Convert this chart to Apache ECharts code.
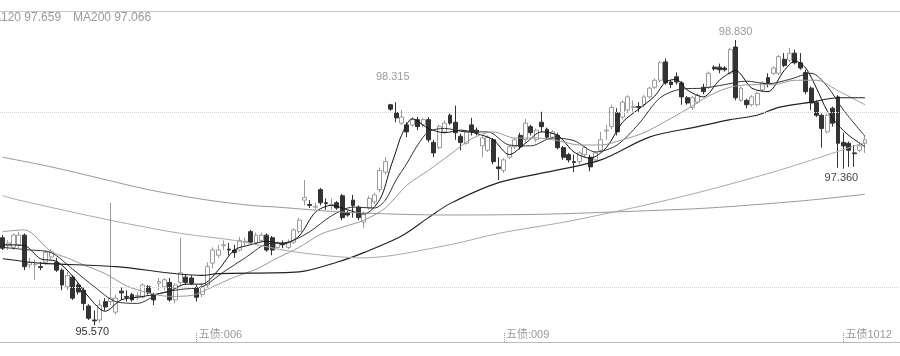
<!DOCTYPE html>
<html><head><meta charset="utf-8">
<script src="https://cdn.jsdelivr.net/npm/echarts@6/dist/echarts.min.js"></script>
<style>html,body{margin:0;padding:0;background:#fff}#c{width:900px;height:356px}</style>
</head><body><div id="c"></div>
<script>
const open = [
96.57,96.48,96.46,96.49,96.60,96.26,96.26,96.24,96.29,96.35,
96.29,96.20,96.01,96.12,96.03,95.97,95.79,95.63,95.63,95.84,
95.84,95.72,95.96,95.90,95.92,95.90,95.89,96.01,95.92,96.05,
96.01,96.06,95.86,96.06,96.12,96.11,96.00,95.92,96.03,96.28,
96.37,96.48,96.44,96.43,96.43,96.52,96.64,96.51,96.54,96.60,
96.57,96.46,96.50,96.46,96.52,96.64,97.00,96.95,96.92,97.12,
96.97,96.94,96.97,97.05,96.86,97.00,96.92,96.75,96.91,96.98,
97.12,97.32,98.09,98.00,97.88,97.86,97.86,97.92,97.86,97.92,
97.66,97.60,97.78,97.97,97.89,97.73,97.65,97.86,97.80,97.62,
97.57,97.69,97.38,97.34,97.49,97.61,97.74,97.69,97.84,97.69,
97.89,97.81,97.72,97.74,97.60,97.52,97.44,97.44,97.52,97.49,
97.46,97.57,97.79,97.84,98.00,97.95,98.03,98.06,98.07,98.09,
98.18,98.29,98.37,98.58,98.35,98.41,98.34,98.17,98.06,98.12,
98.29,98.29,98.52,98.52,98.51,98.45,98.75,98.14,98.14,98.09,
98.09,98.26,98.40,98.45,98.45,98.61,98.60,98.68,98.57,98.46,
98.28,98.12,97.97,97.78,98.05,98.18,97.66,97.65,97.54,97.57,
97.65];
const close = [
96.45,96.51,96.60,96.60,96.24,96.29,96.27,96.23,96.40,96.41,
96.20,96.03,96.14,95.88,95.95,95.82,95.65,95.62,95.80,95.78,
95.88,95.88,95.94,95.89,95.86,95.91,96.03,95.94,95.86,96.07,
96.09,95.86,96.03,96.17,96.06,96.05,95.89,96.01,96.24,96.43,
96.43,96.49,96.43,96.40,96.54,96.53,96.52,96.60,96.60,96.43,
96.43,96.51,96.49,96.52,96.66,96.77,97.03,96.94,96.93,96.97,
96.96,96.95,96.91,96.80,96.83,96.94,96.80,96.85,97.02,97.06,
97.34,97.44,98.04,97.94,97.95,97.78,97.92,97.84,97.92,97.69,
97.54,97.84,97.88,97.88,97.77,97.66,97.78,97.78,97.77,97.71,
97.72,97.44,97.36,97.46,97.61,97.69,97.61,97.88,97.77,97.80,
97.84,97.72,97.78,97.60,97.49,97.46,97.43,97.54,97.60,97.38,
97.54,97.69,97.80,98.06,97.78,98.12,98.18,98.07,98.06,98.18,
98.28,98.37,98.57,98.34,98.32,98.35,98.18,98.11,98.17,98.20,
98.24,98.45,98.50,98.49,98.49,98.72,98.17,98.28,98.09,98.18,
98.22,98.34,98.34,98.51,98.64,98.54,98.68,98.57,98.51,98.24,
98.11,97.97,97.82,97.97,97.88,97.65,97.62,97.57,97.53,97.62,
97.69];
const low = [
96.43,96.43,96.43,96.45,96.20,96.22,96.09,96.20,96.26,96.32,
96.18,95.97,95.97,95.86,95.92,95.74,95.63,95.57,95.60,95.74,
95.80,95.69,95.86,95.84,95.84,95.86,95.88,95.92,95.80,95.97,
95.97,95.84,95.82,96.03,96.03,96.03,95.84,95.89,96.00,96.22,
96.34,96.43,96.37,96.34,96.41,96.48,96.50,96.49,96.52,96.41,
96.37,96.45,96.45,96.44,96.50,96.62,96.94,96.91,96.89,96.94,
96.89,96.89,96.89,96.77,96.81,96.80,96.77,96.68,96.89,96.95,
97.09,97.29,98.02,97.89,97.86,97.72,97.84,97.80,97.83,97.66,
97.49,97.58,97.76,97.86,97.69,97.57,97.63,97.74,97.74,97.49,
97.55,97.41,97.23,97.31,97.47,97.58,97.58,97.66,97.74,97.66,
97.78,97.70,97.70,97.58,97.46,97.43,97.32,97.41,97.49,97.33,
97.43,97.55,97.69,97.81,97.74,97.92,98.00,98.01,98.01,98.06,
98.16,98.27,98.35,98.32,98.28,98.32,98.09,98.09,98.03,98.10,
98.21,98.27,98.48,98.45,98.47,98.43,98.14,98.12,98.05,98.07,
98.07,98.24,98.29,98.43,98.43,98.52,98.58,98.55,98.49,98.21,
98.03,97.95,97.60,97.76,97.84,97.37,97.36,97.38,97.38,97.55,
97.54];
const high = [
96.60,96.54,96.62,96.64,96.62,96.34,96.32,96.29,96.43,96.44,
96.34,96.22,96.18,96.14,96.05,96.00,95.81,95.74,95.86,95.88,
96.97,95.92,96.00,95.97,95.94,95.95,96.05,96.03,95.94,96.11,
96.11,96.11,96.05,96.57,96.15,96.14,96.03,96.05,96.29,96.46,
96.49,96.54,96.51,96.49,96.58,96.57,96.66,96.63,96.63,96.62,
96.59,96.53,96.54,96.55,96.68,96.80,97.23,97.00,96.97,97.14,
97.02,97.02,96.99,97.07,96.88,97.06,96.94,96.87,97.05,97.08,
97.37,97.49,98.10,98.12,98.03,97.89,97.95,97.95,97.94,97.95,
97.69,97.86,97.91,97.99,98.08,97.76,97.80,97.94,97.83,97.73,
97.74,97.71,97.49,97.48,97.63,97.71,97.77,97.93,97.86,97.82,
98.01,97.83,97.80,97.77,97.62,97.54,97.52,97.56,97.62,97.52,
97.56,97.78,97.86,98.09,98.05,98.14,98.20,98.14,98.12,98.20,
98.30,98.39,98.59,98.62,98.37,98.46,98.36,98.19,98.19,98.22,
98.33,98.47,98.54,98.56,98.53,98.74,98.83,98.30,98.16,98.20,
98.24,98.36,98.45,98.53,98.66,98.68,98.74,98.72,98.68,98.49,
98.30,98.14,97.99,97.99,98.07,98.20,97.77,97.67,97.63,97.65,
97.74];

// moving-average lines as [candle index, value]
const ma5 = [[0,96.49],[4,96.48],[7,96.33],[10,96.30],[13,96.13],[16,95.89],[19,95.73],[22,95.86],[25,95.89],[28,95.92],[31,95.96],[34,96.04],[37,96.04],[40,96.20],[43,96.43],[46,96.49],[49,96.53],[52,96.50],[55,96.59],[58,96.86],[61,96.94],[64,96.89],[67,96.84],[70,97.01],[72,97.38],[73,97.56],[74,97.74],[76,97.93],[79,97.82],[82,97.77],[85,97.80],[88,97.76],[91,97.69],[94,97.52],[97,97.65],[100,97.78],[103,97.74],[106,97.55],[109,97.48],[112,97.60],[115,97.89],[118,98.04],[121,98.19],[123,98.35],[125,98.38],[127,98.26],[130,98.18],[133,98.37],[136,98.48],[139,98.28],[142,98.24],[145,98.48],[147,98.59],[149,98.51],[151,98.28],[153,98.02],[155,97.86],[157,97.74],[160,97.61]];
const ma10 = [[0,96.46],[5,96.43],[9,96.40],[13,96.21],[17,96.01],[21,95.84],[25,95.82],[29,95.93],[33,95.98],[37,96.01],[41,96.18],[45,96.34],[49,96.50],[53,96.52],[57,96.64],[61,96.82],[65,96.92],[69,96.91],[71,97.00],[73,97.23],[75,97.42],[77,97.63],[79,97.78],[82,97.82],[86,97.78],[90,97.78],[94,97.63],[98,97.62],[102,97.71],[106,97.68],[110,97.55],[114,97.63],[118,97.87],[122,98.17],[126,98.27],[130,98.28],[134,98.32],[138,98.36],[142,98.33],[146,98.38],[150,98.45],[153,98.30],[156,98.03],[160,97.73]];
const ma20 = [[0,96.64],[4,96.66],[9,96.41],[12,96.34],[15,96.26],[19,96.16],[23,96.02],[27,95.94],[31,95.90],[35,95.91],[39,96.01],[43,96.12],[47,96.21],[51,96.34],[55,96.46],[59,96.61],[63,96.69],[67,96.77],[71,96.91],[75,97.17],[79,97.34],[83,97.52],[87,97.70],[91,97.78],[95,97.71],[99,97.71],[103,97.68],[107,97.63],[111,97.63],[115,97.69],[119,97.77],[123,97.90],[127,98.04],[131,98.19],[135,98.29],[139,98.32],[143,98.32],[147,98.37],[151,98.37],[155,98.25],[160,98.09]];
const ma60 = [[0,96.33],[7,96.28],[21,96.24],[37,96.14],[40,96.16],[55,96.18],[62,96.29],[67,96.40],[74,96.59],[79,96.80],[83,96.96],[92,97.20],[101,97.32],[111,97.46],[120,97.72],[129,97.84],[135,97.92],[140,97.97],[144,98.06],[150,98.12],[155,98.17],[160,98.17]];
const ma120 = [[0,97.05],[3,97.00],[20,96.77],[33,96.62],[43,96.54],[54,96.41],[67,96.34],[83,96.49],[92,96.62],[106,96.77],[126,97.04],[144,97.34],[160,97.66]];
const ma200 = [[0,97.49],[9,97.38],[18,97.25],[27,97.12],[37,97.01],[46,96.94],[51,96.92],[64,96.86],[83,96.83],[101,96.84],[120,96.88],[131,96.91],[148,96.99],[160,97.066]];

const legendNames = ['MA120', 'MA200'];
const legendValues = [97.659, 97.066];
const tickIndex = [36, 93, 156];
const tickText = ['五债:006', '五债:009', '五债1012'];
const extremeIndex = [17, 72, 136, 156];
const extremeValue = [95.570, 98.315, 98.830, 97.360];
const gridValues = [96, 98];

const totalSlots = 167;
const categories = [];
for (let i = 0; i < totalSlots; i++) categories.push(String(i));
const candles = open.map((o, i) => [o, close[i], low[i], high[i]]);

const yTop = 99.15, yBottom = 95.3786;
const numFont = '"Liberation Sans", Arial, sans-serif';

const extremeStyle = [
  {offset: [-2, 7], color: '#333'},
  {offset: [2, -8], color: '#999'},
  {offset: [0, -8], color: '#999'},
  {offset: [-2, 9], color: '#444'}
];

function lineSeries(name, data, color, width) {
  return {
    name, type: 'line', data, showSymbol: false, symbol: 'none', smooth: 0.3,
    lineStyle: {color, width}, itemStyle: {color}, z: 3, silent: true
  };
}

const chart = echarts.init(document.getElementById('c'), null, {renderer: 'canvas'});
chart.setOption({
  animation: false,
  backgroundColor: '#fff',
  grid: {left: 0, top: 12, width: totalSlots * 5.4, height: 330, containLabel: false},
  xAxis: {
    type: 'category', data: categories, boundaryGap: true,
    axisLine: {show: true, lineStyle: {color: '#bbb', width: 1}},
    axisTick: {show: true, inside: true, length: 9, alignWithLabel: true,
      interval: (i) => tickIndex.includes(i),
      lineStyle: {color: '#999', type: 'dotted'}},
    axisLabel: {show: true, inside: true, margin: 2, align: 'left', padding: [0, 0, 0, 2],
      interval: (i) => tickIndex.includes(i),
      formatter: (v, i) => { const k = tickIndex.indexOf(i); return k >= 0 ? tickText[k] : ''; },
      color: '#999', fontSize: 11, fontFamily: '"Liberation Sans", "Noto Sans CJK SC", sans-serif'},
    splitLine: {show: false}
  },
  yAxis: {type: 'value', min: yBottom, max: yTop, show: false, splitLine: {show: false}},
  series: [
    {
      type: 'candlestick', data: candles, barWidth: 4.4, z: 2,
      itemStyle: {color: '#ffffff', color0: '#333333', borderColor: '#9a9a9a', borderColor0: '#333333', borderWidth: 1},
      markPoint: {
        silent: true, symbol: 'circle', symbolSize: 1, itemStyle: {color: 'rgba(0,0,0,0)'},
        data: extremeIndex.map((x, k) => ({
          coord: [x, extremeValue[k]], value: extremeValue[k],
          label: {show: true, position: 'inside', offset: extremeStyle[k].offset,
            color: extremeStyle[k].color, fontSize: 11, fontFamily: numFont,
            formatter: (p) => Number(p.value).toFixed(3)}
        }))
      },
      markLine: {
        silent: true, symbol: ['none', 'none'], label: {show: false},
        lineStyle: {color: '#d4d4d4', type: 'dotted', width: 1},
        data: gridValues.map(v => ({yAxis: v}))
      }
    },
    lineSeries('MA5', ma5, '#111', 1),
    lineSeries('MA10', ma10, '#333', 1),
    lineSeries('MA20', ma20, '#999', 1),
    lineSeries('MA60', ma60, '#222', 1.1),
    lineSeries('MA120', ma120, '#aaa', 1),
    lineSeries('MA200', ma200, '#999', 1)
  ],
  graphic: [
    {type: 'line', shape: {x1: 0, y1: 11.5, x2: 900, y2: 11.5}, style: {stroke: '#c8c8c8', lineWidth: 1}, silent: true},
    {type: 'text', x: -17, y: 18, style: {text: legendNames[0] + ' ' + legendValues[0].toFixed(3), fill: '#999', font: '12px ' + numFont, verticalAlign: 'middle'}, silent: true},
    {type: 'text', x: 73, y: 18, style: {text: legendNames[1] + ' ' + legendValues[1].toFixed(3), fill: '#999', font: '12px ' + numFont, verticalAlign: 'middle'}, silent: true}
  ]
});
</script>
</body></html>
